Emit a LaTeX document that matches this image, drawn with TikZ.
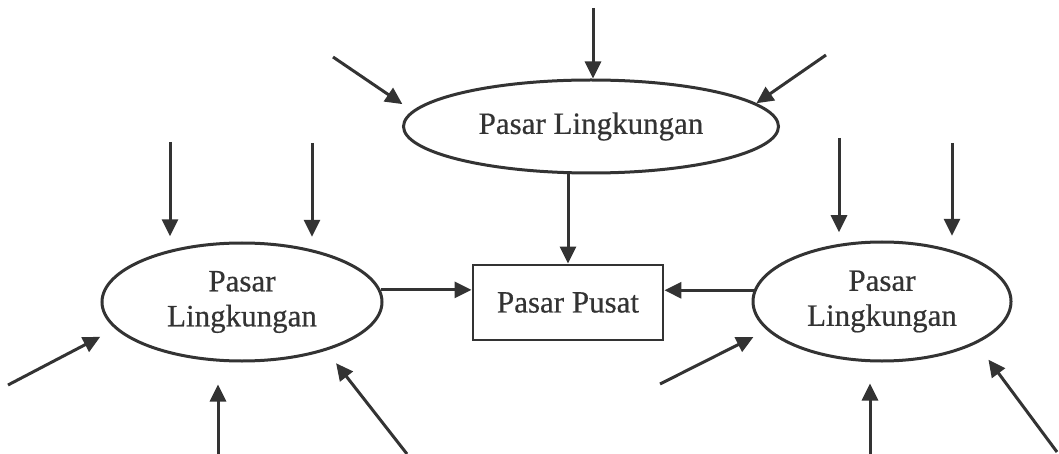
\documentclass[tikz,border=0pt]{standalone}
\usepackage{fontspec}
\setmainfont{Liberation Serif}
\newfontfamily\scanfont{Liberation Serif}[FakeBold=0.5]
\usetikzlibrary{arrows.meta,shapes.geometric}
\definecolor{ink}{HTML}{333333}
\begin{document}
\begin{tikzpicture}[x=0.5pt,y=-0.5pt,
  market/.style={ellipse,draw=ink,text=ink,line width=1.5pt,inner sep=0pt,align=center,
    font=\scanfont\fontsize{15.5}{17.5}\selectfont},
  centrebox/.style={rectangle,draw=ink,text=ink,line width=1.4pt,inner sep=0pt,
    font=\scanfont\fontsize{15.5}{17.5}\selectfont},
  flow/.style={draw=ink,line width=1.5pt,-{Triangle[length=8.5pt,width=8pt]}}]
\useasboundingbox (0,0) rectangle (1059,454);
% nodes
\node[market,minimum width=187.5pt,minimum height=46.5pt] (T) at (591,126.5) {Pasar Lingkungan};
\node[market,minimum width=140pt,minimum height=59pt] (L) at (242,302) {Pasar\\Lingkungan};
\node[market,minimum width=129pt,minimum height=59.5pt] (R) at (882,301.5) {Pasar\\Lingkungan};
\node[centrebox,minimum width=95pt,minimum height=37.5pt] (B) at (568,302.5) {Pasar Pusat};
% free ends
\coordinate (c1) at (593,8);
\coordinate (c2) at (333,57);
\coordinate (c3) at (826,55);
\coordinate (l1) at (170,142);
\coordinate (l2) at (312,143);
\coordinate (l3) at (8,385);
\coordinate (l4) at (218,454);
\coordinate (l5) at (407,454);
\coordinate (r1) at (839,138);
\coordinate (r2) at (952,143);
\coordinate (r3) at (660,384);
\coordinate (r4) at (870,454);
\coordinate (r5) at (1057,452);
% arrows into top market
\draw[flow] (c1) -- (c1 |- T.north);
\draw[flow,shorten >=6pt] (c2) -- (T.175);
\draw[flow] (c3) -- (T.8);
\draw[flow] (B.north |- T.south) -- (B.north);
% arrows into left market
\draw[flow,shorten >=7pt] (l1) -- (l1 |- L.145);
\draw[flow,shorten >=6.5pt] (l2) -- (l2 |- L.36);
\draw[flow,shorten >=8.5pt] (l3) -- (L.192);
\draw[flow,shorten >=11pt] (l4) -- (l4 |- L.south);
\draw[flow,shorten >=8pt] (l5) -- (L.330);
\draw[flow] (L.5) -- (L.5 -| B.west);
% arrows into right market
\draw[flow,shorten >=6pt] (r1) -- (r1 |- R.128);
\draw[flow,shorten >=7.5pt] (r2) -- (r2 |- R.35);
\draw[flow,shorten >=7.5pt] (r3) -- (R.194);
\draw[flow,shorten >=10.5pt] (r4) -- (r4 |- R.south);
\draw[flow,shorten >=10pt] (r5) -- (R.336);
\draw[flow] (R.175) -- (R.175 -| B.east);
\end{tikzpicture}
\end{document}
